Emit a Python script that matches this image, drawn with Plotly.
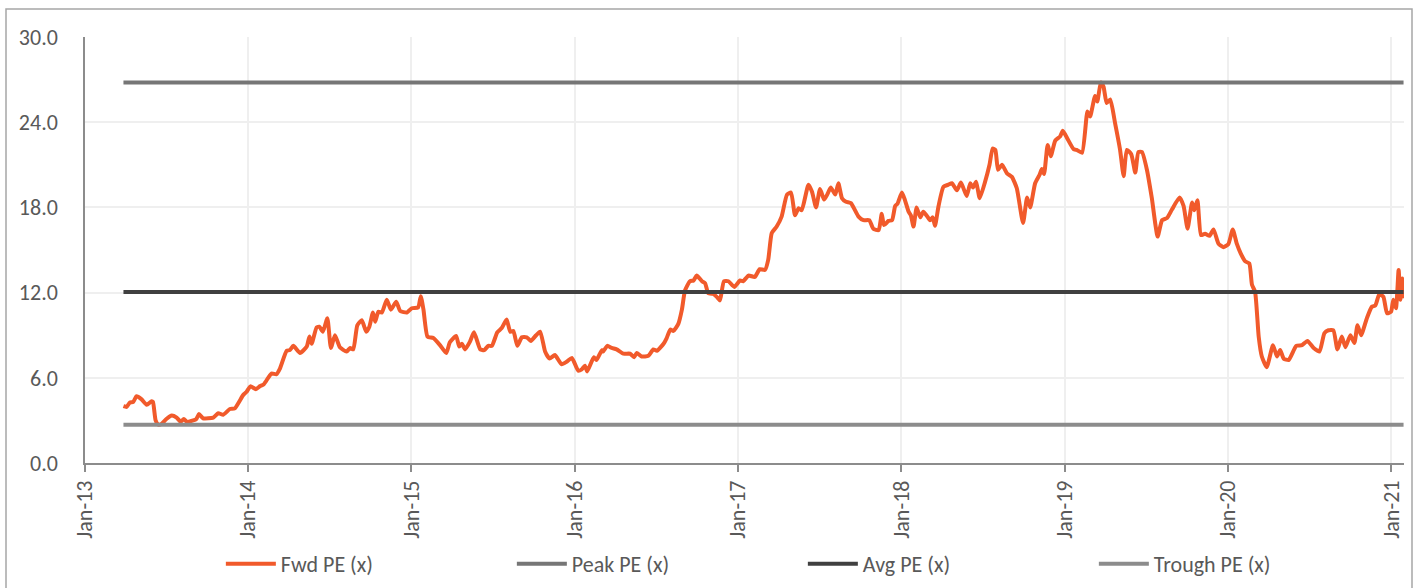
import plotly.graph_objects as go

# ---- data ----
fwd_dates = [
    "2013-03-28","2013-04-04","2013-04-11","2013-04-19","2013-04-26","2013-05-07","2013-05-19","2013-05-30",
    "2013-06-02","2013-06-08","2013-06-14","2013-06-21","2013-07-02","2013-07-14","2013-07-25","2013-08-03",
    "2013-08-10","2013-08-17","2013-08-31","2013-09-07","2013-09-13","2013-09-22","2013-10-15","2013-10-26",
    "2013-11-06","2013-11-21","2013-12-02","2013-12-21","2013-12-28",
    "2014-01-06","2014-01-18","2014-01-27","2014-02-05","2014-02-22","2014-03-05","2014-03-13","2014-03-28",
    "2014-04-04","2014-04-12","2014-04-27","2014-05-12","2014-05-18","2014-05-23","2014-06-03","2014-06-09",
    "2014-06-17","2014-06-27","2014-07-05","2014-07-14","2014-07-25","2014-08-09","2014-08-17","2014-08-24",
    "2014-09-02","2014-09-12","2014-09-22","2014-09-29","2014-10-07","2014-10-12","2014-10-19","2014-10-27",
    "2014-11-07","2014-11-16","2014-11-28","2014-12-07","2014-12-22",
    "2015-01-02","2015-01-16","2015-01-22","2015-01-28","2015-02-06","2015-02-19","2015-03-06","2015-03-20",
    "2015-03-28","2015-04-11","2015-04-18","2015-04-24","2015-05-01","2015-05-12","2015-05-21","2015-06-04",
    "2015-06-13","2015-06-22","2015-06-30","2015-07-12","2015-07-22","2015-08-02","2015-08-10","2015-08-17",
    "2015-08-26","2015-09-05","2015-09-16","2015-09-25","2015-10-07","2015-10-16","2015-10-27","2015-11-06",
    "2015-11-18","2015-12-03","2015-12-15","2015-12-26",
    "2016-01-09","2016-01-17","2016-01-24","2016-01-29","2016-02-13","2016-02-19","2016-03-02","2016-03-05",
    "2016-03-14","2016-03-24","2016-04-04","2016-04-19","2016-05-04","2016-05-13","2016-05-19","2016-05-30",
    "2016-06-14","2016-06-25","2016-07-03","2016-07-18","2016-07-25","2016-08-02","2016-08-09","2016-08-20",
    "2016-08-28","2016-09-04","2016-09-15","2016-09-23","2016-09-30","2016-10-12","2016-10-19","2016-10-26",
    "2016-11-06","2016-11-14","2016-11-21","2016-11-30","2016-12-10","2016-12-23",
    "2017-01-05","2017-01-12","2017-01-24","2017-02-07","2017-02-18","2017-03-02","2017-03-09","2017-03-17",
    "2017-03-28","2017-04-08","2017-04-20","2017-04-29","2017-05-08","2017-05-16","2017-05-23","2017-06-07",
    "2017-06-15","2017-06-24","2017-07-03","2017-07-12","2017-07-19","2017-07-27","2017-08-06","2017-08-13",
    "2017-08-21","2017-08-30","2017-09-10","2017-09-27","2017-10-08","2017-10-21","2017-10-30","2017-11-11",
    "2017-11-18","2017-11-23","2017-12-03","2017-12-11","2017-12-18","2017-12-23",
    "2018-01-02","2018-01-09","2018-01-17","2018-01-22","2018-01-28","2018-02-04","2018-02-12","2018-02-19",
    "2018-02-27","2018-03-06","2018-03-12","2018-03-17","2018-03-25","2018-04-05","2018-04-16","2018-04-24",
    "2018-05-05","2018-05-14","2018-05-27","2018-06-04","2018-06-10","2018-06-17","2018-06-25","2018-07-07",
    "2018-07-17","2018-07-24","2018-07-30","2018-08-05","2018-08-14","2018-08-25","2018-09-05","2018-09-16",
    "2018-09-30","2018-10-09","2018-10-16","2018-10-27","2018-11-06","2018-11-11","2018-11-16","2018-11-24",
    "2018-12-01","2018-12-11","2018-12-22","2018-12-28",
    "2019-01-07","2019-01-21","2019-01-28","2019-02-09","2019-02-21","2019-02-27","2019-03-10","2019-03-15",
    "2019-03-23","2019-03-29","2019-04-05","2019-04-13","2019-04-24","2019-05-05","2019-05-13","2019-05-20",
    "2019-05-30","2019-06-08","2019-06-15","2019-06-23","2019-07-04","2019-07-15","2019-07-28","2019-08-07",
    "2019-08-18","2019-08-29","2019-09-15","2019-09-24","2019-10-03","2019-10-13","2019-10-18","2019-10-25",
    "2019-11-02","2019-11-11","2019-11-21","2019-11-30","2019-12-11","2019-12-22",
    "2020-01-02","2020-01-12","2020-01-21","2020-01-30","2020-02-09","2020-02-18","2020-02-24","2020-03-02",
    "2020-03-10","2020-03-17","2020-03-28","2020-04-11","2020-04-20","2020-04-27","2020-05-05","2020-05-16",
    "2020-06-02","2020-06-15","2020-06-27","2020-07-11","2020-07-24","2020-08-04","2020-08-13","2020-08-24",
    "2020-09-02","2020-09-12","2020-09-20","2020-10-01","2020-10-10","2020-10-17","2020-10-25","2020-11-07",
    "2020-11-18","2020-11-26","2020-12-05","2020-12-14","2020-12-22","2020-12-31",
    "2021-01-05","2021-01-11","2021-01-17","2021-01-21","2021-01-25","2021-01-28",
]
fwd_values = [
    4.0,3.95,4.25,4.3,4.7,4.5,4.1,4.35,
    4.3,3.0,2.7,2.75,3.1,3.35,3.2,2.9,
    3.1,2.9,3.0,3.1,3.45,3.15,3.2,3.5,
    3.4,3.8,3.85,4.8,5.0,
    5.4,5.2,5.4,5.55,6.3,6.25,6.65,7.9,
    7.95,8.25,7.75,8.2,8.9,8.4,9.55,9.6,
    9.25,10.2,8.1,9.0,8.15,7.85,8.1,8.0,
    9.7,10.05,9.25,9.6,10.6,9.95,10.65,10.6,
    11.5,10.8,11.35,10.7,10.6,
    10.9,10.95,11.75,10.8,8.9,8.8,8.3,7.75,
    8.5,8.95,8.2,8.4,8.0,8.55,9.2,8.0,
    7.95,8.25,8.25,9.2,9.5,10.1,9.25,9.3,
    8.25,8.85,8.85,8.6,9.0,9.25,7.85,7.35,
    7.6,6.95,7.15,7.4,
    6.5,6.6,6.85,6.45,7.45,7.25,7.95,7.85,
    8.25,8.1,8.0,7.7,7.7,7.45,7.75,7.5,
    7.55,8.0,7.9,8.4,8.8,9.4,9.3,9.8,
    10.8,12.15,12.8,12.85,13.2,12.8,12.65,11.95,
    11.9,11.7,11.45,12.8,12.8,12.4,
    12.85,12.8,13.2,13.1,13.65,13.6,14.3,16.2,
    16.65,17.35,18.9,19.05,17.45,17.95,17.8,19.6,
    19.1,18.0,19.3,18.55,18.9,19.4,18.9,19.7,
    18.65,18.4,18.3,17.35,17.1,17.1,16.5,16.4,
    17.55,16.75,17.05,17.1,18.1,18.25,
    19.05,18.5,17.7,17.45,16.65,18.0,17.3,17.7,
    17.4,17.1,17.3,16.7,18.1,19.45,19.6,19.7,
    19.2,19.75,18.8,19.7,19.4,19.8,18.65,19.8,
    21.0,22.15,22.05,20.65,21.0,20.4,20.15,19.35,
    16.9,18.7,18.0,19.7,20.3,20.7,20.35,22.4,
    21.6,22.7,23.0,23.4,
    22.85,22.1,22.05,21.85,24.75,24.4,25.85,25.45,
    26.8,26.5,25.35,25.6,23.9,22.05,20.2,22.05,
    21.75,20.45,21.9,21.9,20.65,18.65,15.95,17.1,
    17.25,17.85,18.7,18.1,16.5,18.35,17.8,18.5,
    16.05,16.15,16.0,16.45,15.45,15.2,
    15.4,16.45,15.45,14.75,14.2,14.05,12.55,12.05,
    8.9,7.5,6.75,8.3,7.5,7.95,7.35,7.25,
    8.25,8.3,8.6,8.1,7.85,9.15,9.35,9.35,
    8.0,8.9,8.15,9.0,8.45,9.7,9.0,10.2,
    11.0,11.1,11.9,11.7,10.55,10.65,
    11.5,10.9,13.6,11.5,13.0,11.6,
]
peak_pe = 26.8
avg_pe = 12.05
trough_pe = 2.7

series_names = ["Fwd PE (x)", "Peak PE (x)", "Avg PE (x)", "Trough PE (x)"]
tick_dates = ["2013-01-01","2014-01-01","2015-01-01","2016-01-01","2017-01-01",
              "2018-01-01","2019-01-01","2020-01-01","2021-01-01"]
tick_labels = ["Jan-13","Jan-14","Jan-15","Jan-16","Jan-17","Jan-18","Jan-19","Jan-20","Jan-21"]
y_ticks = [0, 6, 12, 18, 24, 30]

FONT = "Carlito, Lato, 'Liberation Sans', sans-serif"
TXT = "#595959"
FS = 22

fig = go.Figure()
span = [fwd_dates[0], fwd_dates[-1]]
fig.add_trace(go.Scatter(x=fwd_dates, y=fwd_values, mode="lines", name=series_names[0],
                         line=dict(color="#F15A2B", width=4, shape="spline", smoothing=0.5)))
fig.add_trace(go.Scatter(x=span, y=[peak_pe, peak_pe], mode="lines", name=series_names[1],
                         line=dict(color="#767676", width=4)))
fig.add_trace(go.Scatter(x=span, y=[avg_pe, avg_pe], mode="lines", name=series_names[2],
                         line=dict(color="#404040", width=4)))
fig.add_trace(go.Scatter(x=span, y=[trough_pe, trough_pe], mode="lines", name=series_names[3],
                         line=dict(color="#8C8C8C", width=4)))

fig.update_layout(
    width=1416, height=588,
    margin=dict(l=85, r=12, t=37, b=125, autoexpand=False),
    paper_bgcolor="white", plot_bgcolor="white",
    font=dict(family=FONT, size=FS, color=TXT),
    showlegend=True,
    legend=dict(orientation="h", x=0.103, xanchor="left", y=-0.237, yanchor="middle",
                entrywidth=226, entrywidthmode="pixels", itemwidth=50,
                font=dict(size=FS, color=TXT), traceorder="normal"),
    xaxis=dict(type="date", range=["2013-01-01", "2021-01-29"], automargin=False,
               tickvals=tick_dates, ticktext=tick_labels, tickangle=-90,
               showgrid=True, gridcolor="#EFEFEF", gridwidth=1.5,
               showline=True, linecolor="#8C8C8C", linewidth=1.5,
               ticks="outside", ticklen=7, tickcolor="#8C8C8C", tickwidth=1.5,
               zeroline=False, tickfont=dict(size=FS, color=TXT)),
    yaxis=dict(range=[0, 30], tickvals=y_ticks, tickformat=".1f", automargin=False,
               showgrid=True, gridcolor="#EFEFEF", gridwidth=1.5,
               showline=True, linecolor="#8C8C8C", linewidth=1.5,
               ticks="", ticklabelstandoff=21, zeroline=False,
               tickfont=dict(size=FS, color=TXT)),
    shapes=[dict(type="rect", xref="paper", yref="paper",
                 x0=(6 - 85) / 1319, x1=(1412 - 85) / 1319,
                 y0=-0.33, y1=(463 - 9) / 426,
                 line=dict(color="#A6A6A6", width=1.5), fillcolor="rgba(0,0,0,0)", layer="below")],
)

fig.write_html("out.html")
